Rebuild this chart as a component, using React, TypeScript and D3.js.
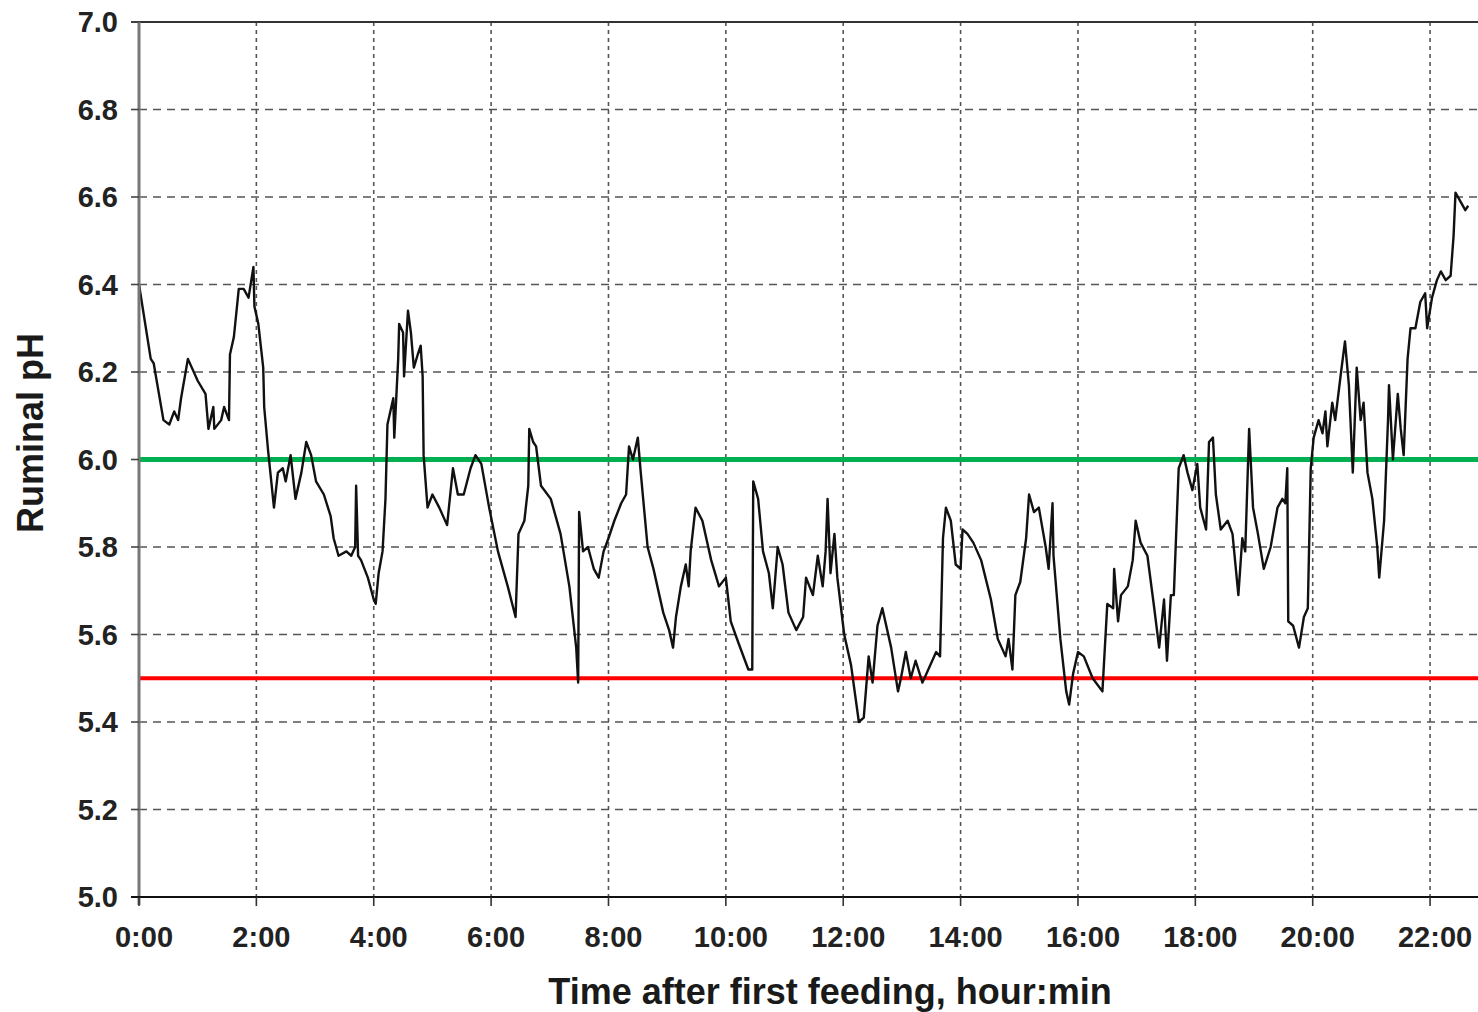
import React from "react";
import * as d3 from "d3";

// Minutes after first feeding at which each reading was taken
const sampleMinutes = [
  0, 12, 15, 25, 31, 36, 40, 43, 50, 60, 68, 71, 76, 77, 84, 87, 92, 93, 97, 102,
  107, 112, 117, 118, 122, 127, 128, 132, 138, 142, 147, 150, 155, 160, 166, 171, 176, 181, 189, 196,
  199, 204, 212, 217, 221, 222, 224, 227, 234, 240, 242, 245, 249, 252, 254, 260, 261, 265, 266, 270,
  271, 275, 278, 281, 285, 288, 290, 291, 295, 300, 307, 315, 321, 326, 332, 339, 344, 350, 358, 367,
  377, 385, 388, 394, 398, 399, 403, 406, 411, 421, 431, 440, 447, 449, 450, 454, 459, 465, 470, 475,
  480, 486, 493, 498, 501, 505, 510, 513, 520, 526, 536, 542, 546, 549, 554, 559, 562, 564, 569, 576,
  585, 593, 600, 605, 613, 623, 627, 628, 633, 638, 644, 648, 653, 658, 664, 672, 679, 682, 689, 694,
  699, 702, 704, 707, 711, 714, 721, 728, 736, 741, 746, 750, 755, 760, 769, 776, 779, 784, 789, 794,
  801, 807, 815, 819, 822, 825, 830, 835, 840, 842, 847, 853, 861, 871, 878, 886, 889, 893, 896, 901,
  907, 910, 915, 920, 927, 930, 934, 935, 942, 948, 951, 955, 960, 966, 975, 985, 990, 996, 997, 1001,
  1004, 1011, 1016, 1019, 1024, 1031, 1038, 1043, 1048, 1051, 1055, 1058, 1063, 1068, 1072, 1077, 1082, 1085, 1091, 1094,
  1098, 1101, 1106, 1113, 1118, 1124, 1128, 1131, 1135, 1139, 1144, 1150, 1157, 1164, 1169, 1172, 1174, 1175, 1180, 1186,
  1191, 1195, 1198, 1201, 1206, 1210, 1213, 1215, 1220, 1223, 1229, 1233, 1237, 1241, 1245, 1249, 1252, 1256, 1261, 1266,
  1268, 1273, 1277, 1278, 1282, 1287, 1290, 1293, 1297, 1300, 1305, 1310, 1315, 1317, 1322, 1327, 1331, 1336, 1341, 1344,
  1346, 1351, 1356, 1359,
];

// Ruminal pH recorded at each of those times
const ruminalPH = [
  6.40, 6.23, 6.22, 6.09, 6.08, 6.11, 6.09, 6.14, 6.23, 6.18, 6.15, 6.07, 6.12, 6.07, 6.09, 6.12, 6.09, 6.24, 6.28, 6.39,
  6.39, 6.37, 6.44, 6.35, 6.31, 6.21, 6.12, 6.02, 5.89, 5.97, 5.98, 5.95, 6.01, 5.91, 5.97, 6.04, 6.01, 5.95, 5.92, 5.87,
  5.82, 5.78, 5.79, 5.78, 5.80, 5.94, 5.78, 5.77, 5.73, 5.68, 5.67, 5.74, 5.79, 5.91, 6.08, 6.14, 6.05, 6.23, 6.31, 6.29,
  6.19, 6.34, 6.29, 6.21, 6.24, 6.26, 6.19, 6.01, 5.89, 5.92, 5.89, 5.85, 5.98, 5.92, 5.92, 5.98, 6.01, 5.99, 5.89, 5.79,
  5.71, 5.64, 5.83, 5.86, 5.94, 6.07, 6.04, 6.03, 5.94, 5.91, 5.83, 5.71, 5.57, 5.49, 5.88, 5.79, 5.80, 5.75, 5.73, 5.79,
  5.82, 5.86, 5.90, 5.92, 6.03, 6.00, 6.05, 5.97, 5.80, 5.75, 5.65, 5.61, 5.57, 5.64, 5.71, 5.76, 5.71, 5.79, 5.89, 5.86,
  5.77, 5.71, 5.73, 5.63, 5.58, 5.52, 5.52, 5.95, 5.91, 5.79, 5.74, 5.66, 5.80, 5.76, 5.65, 5.61, 5.64, 5.73, 5.69, 5.78,
  5.71, 5.79, 5.91, 5.74, 5.83, 5.73, 5.60, 5.53, 5.40, 5.41, 5.55, 5.49, 5.62, 5.66, 5.57, 5.47, 5.50, 5.56, 5.50, 5.54,
  5.49, 5.52, 5.56, 5.55, 5.82, 5.89, 5.86, 5.76, 5.75, 5.84, 5.83, 5.81, 5.77, 5.68, 5.59, 5.55, 5.59, 5.52, 5.69, 5.72,
  5.82, 5.92, 5.88, 5.89, 5.80, 5.75, 5.90, 5.78, 5.59, 5.47, 5.44, 5.51, 5.56, 5.55, 5.50, 5.47, 5.67, 5.66, 5.75, 5.63,
  5.69, 5.71, 5.77, 5.86, 5.81, 5.78, 5.66, 5.57, 5.68, 5.54, 5.69, 5.69, 5.98, 6.01, 5.97, 5.93, 5.99, 5.89, 5.84, 6.04,
  6.05, 5.92, 5.84, 5.86, 5.83, 5.69, 5.82, 5.79, 6.07, 5.89, 5.83, 5.75, 5.80, 5.89, 5.91, 5.90, 5.98, 5.63, 5.62, 5.57,
  5.64, 5.66, 5.98, 6.05, 6.09, 6.06, 6.11, 6.03, 6.13, 6.09, 6.20, 6.27, 6.17, 5.97, 6.21, 6.09, 6.13, 5.97, 5.91, 5.80,
  5.73, 5.86, 6.09, 6.17, 6.00, 6.15, 6.07, 6.01, 6.23, 6.30, 6.30, 6.36, 6.38, 6.30, 6.37, 6.41, 6.43, 6.41, 6.42, 6.51,
  6.61, 6.59, 6.57, 6.58,
];

// Axis ticks
const timeTicks = [0, 120, 240, 360, 480, 600, 720, 840, 960, 1080, 1200, 1320];
const phTicks = [5.0, 5.2, 5.4, 5.6, 5.8, 6.0, 6.2, 6.4, 6.6, 6.8, 7.0];

// Reference thresholds
const upperThreshold = 6.0;
const lowerThreshold = 5.5;

const WIDTH = 1478;
const HEIGHT = 1012;
const margin = { left: 139, right: 0, top: 22, bottom: 115 };

const fmtTime = (m: number) => `${Math.floor(m / 60)}:${String(m % 60).padStart(2, "0")}`;

export default function App() {
  const x = d3
    .scaleLinear()
    .domain([0, 1369])
    .range([margin.left, WIDTH - margin.right]);
  const y = d3
    .scaleLinear()
    .domain([5.0, 7.0])
    .range([HEIGHT - margin.bottom, margin.top]);

  const points: [number, number][] = sampleMinutes.map((m, i) => [m, ruminalPH[i]]);
  const line = d3
    .line<[number, number]>()
    .x((d) => x(d[0]))
    .y((d) => y(d[1]))
    .curve(d3.curveLinear);

  const font = "'Liberation Sans', Arial, Helvetica, sans-serif";
  const x0 = x.range()[0];
  const x1 = x.range()[1];
  const yBottom = y(5.0);
  const yTop = y(7.0);

  return (
    <svg
      width={WIDTH}
      height={HEIGHT}
      style={{ position: "absolute", left: 0, top: 0, background: "#fff" }}
      fontFamily={font}
    >
      {/* horizontal grid */}
      {phTicks
        .filter((v) => v > 5.0 && v < 7.0)
        .map((v) => (
          <line
            key={`hg${v}`}
            x1={x0}
            x2={x1}
            y1={y(v)}
            y2={y(v)}
            stroke="#555"
            strokeWidth={1.6}
            strokeDasharray="8,6"
          />
        ))}
      {/* vertical grid */}
      {timeTicks
        .filter((t) => t > 0)
        .map((t) => (
          <line
            key={`vg${t}`}
            x1={x(t)}
            x2={x(t)}
            y1={yTop}
            y2={yBottom}
            stroke="#555"
            strokeWidth={1.6}
            strokeDasharray="4,4"
          />
        ))}

      {/* top frame line */}
      <line x1={x0 - 8} x2={x1} y1={yTop} y2={yTop} stroke="#333" strokeWidth={2} />

      {/* threshold lines */}
      <line
        x1={x0}
        x2={x1}
        y1={y(upperThreshold)}
        y2={y(upperThreshold)}
        stroke="#00b050"
        strokeWidth={5}
      />
      <line
        x1={x0}
        x2={x1}
        y1={y(lowerThreshold)}
        y2={y(lowerThreshold)}
        stroke="#ff0000"
        strokeWidth={4}
      />

      {/* pH trace */}
      <path d={line(points) || ""} fill="none" stroke="#111" strokeWidth={2.4} strokeLinejoin="round" />

      {/* y axis */}
      <line x1={x0} x2={x0} y1={yTop} y2={yBottom + 8} stroke="#777" strokeWidth={3} />
      {phTicks.map((v) => (
        <g key={`yt${v}`}>
          <line x1={x0 - 8} x2={x0} y1={y(v)} y2={y(v)} stroke="#444" strokeWidth={1.6} />
          <text
            x={x0 - 21}
            y={y(v)}
            dy="0.36em"
            textAnchor="end"
            fontSize={29}
            fontWeight="bold"
            fill="#222"
          >
            {v.toFixed(1)}
          </text>
        </g>
      ))}

      {/* x axis */}
      <line x1={x0 - 8} x2={x1} y1={yBottom} y2={yBottom} stroke="#111" strokeWidth={2} />
      {timeTicks.map((t) => (
        <g key={`xt${t}`}>
          <line x1={x(t)} x2={x(t)} y1={yBottom} y2={yBottom + 9} stroke="#333" strokeWidth={1.6} />
          <text
            x={x(t) + 5}
            y={yBottom + 50}
            textAnchor="middle"
            fontSize={29}
            fontWeight="bold"
            fill="#222"
          >
            {fmtTime(t)}
          </text>
        </g>
      ))}

      {/* axis titles */}
      <text
        x={830}
        y={1004}
        textAnchor="middle"
        fontSize={36}
        fontWeight="bold"
        fill="#1a1a1a"
      >
        Time after first feeding, hour:min
      </text>
      <text
        transform={`translate(43, ${433}) rotate(-90)`}
        textAnchor="middle"
        fontSize={36}
        fontWeight="bold"
        fill="#1a1a1a"
      >
        Ruminal pH
      </text>
    </svg>
  );
}
